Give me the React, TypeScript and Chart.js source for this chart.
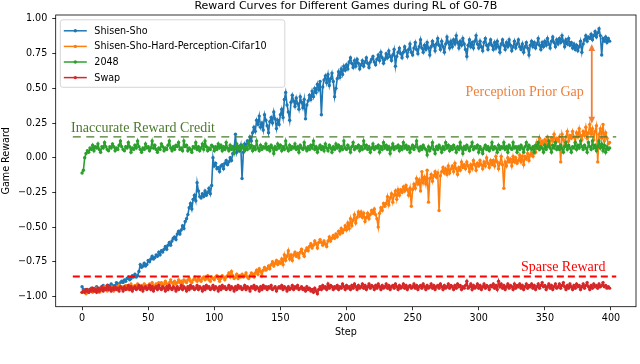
import React, { useEffect, useRef } from "react";
import { Chart, registerables } from "chart.js";

Chart.register(...registerables);

// ---------- data ----------
const TITLE = "Reward Curves for Different Games during RL of G0-7B";
const X_LABEL = "Step";
const Y_LABEL = "Game Reward";

const STEPS: number[] = Array.from({ length: 400 }, (_, i) => i);
const X_TICKS = [0, 50, 100, 150, 200, 250, 300, 350, 400];
const Y_TICKS = [-1.0, -0.75, -0.5, -0.25, 0.0, 0.25, 0.5, 0.75, 1.0];

const SERIES_NAMES = ["Shisen-Sho", "Shisen-Sho-Hard-Perception-Cifar10", "2048", "Swap"];
const SERIES_COLORS = ["#1f77b4", "#ff7f0e", "#2ca02c", "#d62728"];

const SHISEN_SHO = [
  -0.93,-0.95,-0.96,-0.96,-0.95,-0.97,-0.96,-0.94,-0.95,-0.96,
  -0.94,-0.93,-0.95,-0.94,-0.95,-0.93,-0.92,-0.94,-0.95,-0.93,
  -0.92,-0.93,-0.91,-0.92,-0.94,-0.92,-0.90,-0.91,-0.93,-0.90,
  -0.89,-0.90,-0.88,-0.89,-0.87,-0.86,-0.88,-0.87,-0.85,-0.86,
  -0.84,-0.86,-0.85,-0.82,-0.77,-0.79,-0.78,-0.76,-0.78,-0.77,
  -0.74,-0.75,-0.73,-0.71,-0.73,-0.72,-0.70,-0.71,-0.68,-0.70,
  -0.67,-0.68,-0.66,-0.64,-0.66,-0.63,-0.61,-0.63,-0.60,-0.58,
  -0.57,-0.59,-0.55,-0.53,-0.55,-0.52,-0.49,-0.51,-0.46,-0.44,
  -0.41,-0.36,-0.33,-0.37,-0.30,-0.27,-0.31,-0.18,-0.24,-0.28,
  -0.29,-0.26,-0.28,-0.24,-0.27,-0.25,-0.22,-0.26,-0.20,0.00,
  -0.06,-0.04,-0.08,-0.07,-0.10,-0.06,-0.05,-0.08,-0.04,-0.02,
  -0.05,-0.03,0.00,-0.02,0.03,0.06,0.17,0.04,0.08,0.05,
  0.09,-0.15,0.04,0.10,0.07,0.12,0.10,0.15,0.12,0.18,
  0.22,0.19,0.27,0.24,0.30,0.22,0.25,0.20,0.31,0.27,
  0.23,0.18,0.26,0.29,0.25,0.33,0.28,0.21,0.27,0.24,
  0.31,0.35,0.29,0.42,0.47,0.38,0.33,0.27,0.40,0.45,
  0.41,0.37,0.43,0.39,0.35,0.44,0.40,0.36,0.42,0.28,
  0.38,0.41,0.45,0.42,0.48,0.44,0.50,0.47,0.53,0.49,
  0.55,0.31,0.51,0.56,0.59,0.54,0.60,0.52,0.57,0.61,
  0.55,0.44,0.50,0.57,0.62,0.58,0.64,0.60,0.66,0.63,
  0.67,0.64,0.69,0.72,0.68,0.65,0.70,0.66,0.71,0.68,
  0.64,0.67,0.70,0.66,0.69,0.72,0.68,0.65,0.69,0.71,
  0.73,0.69,0.67,0.71,0.74,0.70,0.76,0.72,0.68,0.71,
  0.75,0.72,0.77,0.73,0.70,0.74,0.78,0.66,0.73,0.76,
  0.79,0.75,0.72,0.76,0.80,0.77,0.73,0.78,0.82,0.76,
  0.74,0.79,0.83,0.78,0.75,0.80,0.85,0.79,0.76,0.81,
  0.78,0.83,0.79,0.74,0.80,0.84,0.81,0.77,0.82,0.86,
  0.81,0.78,0.84,0.80,0.76,0.82,0.87,0.83,0.79,0.84,
  0.80,0.85,0.82,0.88,0.83,0.79,0.84,0.81,0.86,0.82,
  0.78,0.73,0.81,0.85,0.80,0.83,0.79,0.84,0.88,0.82,
  0.79,0.84,0.80,0.77,0.83,0.86,0.81,0.78,0.82,0.85,
  0.81,0.78,0.83,0.79,0.84,0.80,0.76,0.82,0.85,0.81,
  0.78,0.83,0.80,0.85,0.81,0.77,0.80,0.84,0.79,0.82,
  0.85,0.80,0.78,0.82,0.76,0.80,0.83,0.79,0.74,0.81,
  0.84,0.80,0.83,0.79,0.82,0.86,0.81,0.78,0.83,0.80,
  0.84,0.81,0.86,0.82,0.79,0.84,0.87,0.83,0.80,0.85,
  0.82,0.86,0.83,0.88,0.84,0.80,0.85,0.82,0.86,0.81,
  0.83,0.79,0.82,0.78,0.81,0.77,0.80,0.84,0.76,0.82,
  0.85,0.88,0.84,0.87,0.86,0.89,0.85,0.88,0.91,0.87,
  0.90,0.93,0.88,0.74,0.86,0.84,0.87,0.83,0.86,0.84,
];

const SHISEN_SHO_HARD = [
  -0.97,-0.96,-0.97,-0.98,-0.96,-0.97,-0.95,-0.96,-0.97,-0.95,
  -0.96,-0.94,-0.95,-0.97,-0.96,-0.94,-0.95,-0.93,-0.95,-0.96,
  -0.94,-0.95,-0.93,-0.94,-0.96,-0.94,-0.93,-0.95,-0.92,-0.94,
  -0.93,-0.95,-0.94,-0.92,-0.93,-0.95,-0.93,-0.91,-0.93,-0.94,
  -0.92,-0.93,-0.91,-0.93,-0.94,-0.92,-0.93,-0.91,-0.92,-0.94,
  -0.92,-0.91,-0.93,-0.90,-0.92,-0.93,-0.91,-0.92,-0.90,-0.91,
  -0.90,-0.92,-0.91,-0.89,-0.91,-0.92,-0.90,-0.88,-0.90,-0.91,
  -0.89,-0.91,-0.90,-0.88,-0.90,-0.89,-0.91,-0.88,-0.89,-0.90,
  -0.88,-0.87,-0.89,-0.90,-0.88,-0.86,-0.88,-0.89,-0.87,-0.88,
  -0.89,-0.87,-0.86,-0.88,-0.87,-0.85,-0.88,-0.89,-0.86,-0.87,
  -0.88,-0.86,-0.85,-0.87,-0.89,-0.87,-0.85,-0.86,-0.88,-0.86,
  -0.85,-0.83,-0.86,-0.82,-0.85,-0.87,-0.86,-0.84,-0.87,-0.85,
  -0.86,-0.84,-0.86,-0.85,-0.83,-0.86,-0.87,-0.85,-0.83,-0.84,
  -0.86,-0.83,-0.81,-0.84,-0.80,-0.82,-0.85,-0.81,-0.79,-0.81,
  -0.80,-0.78,-0.80,-0.77,-0.75,-0.78,-0.76,-0.74,-0.77,-0.75,
  -0.76,-0.73,-0.77,-0.70,-0.74,-0.71,-0.67,-0.73,-0.70,-0.74,
  -0.70,-0.68,-0.71,-0.69,-0.72,-0.68,-0.66,-0.69,-0.71,-0.67,
  -0.65,-0.67,-0.64,-0.62,-0.65,-0.63,-0.60,-0.62,-0.65,-0.61,
  -0.59,-0.61,-0.63,-0.60,-0.62,-0.64,-0.60,-0.57,-0.60,-0.58,
  -0.56,-0.58,-0.55,-0.57,-0.53,-0.55,-0.51,-0.54,-0.52,-0.49,
  -0.52,-0.47,-0.51,-0.44,-0.49,-0.45,-0.41,-0.47,-0.43,-0.39,
  -0.42,-0.39,-0.43,-0.40,-0.46,-0.43,-0.40,-0.44,-0.41,-0.38,
  -0.40,-0.37,-0.41,-0.44,-0.50,-0.40,-0.36,-0.38,-0.33,-0.35,
  -0.33,-0.28,-0.34,-0.29,-0.26,-0.32,-0.27,-0.24,-0.30,-0.23,
  -0.27,-0.23,-0.25,-0.21,-0.24,-0.20,-0.23,-0.27,-0.22,-0.35,
  -0.23,-0.19,-0.22,-0.15,-0.19,-0.16,-0.24,-0.10,-0.18,-0.14,
  -0.19,-0.09,-0.32,-0.15,-0.12,-0.17,-0.13,-0.10,-0.14,-0.11,
  -0.38,-0.13,-0.10,-0.07,-0.11,-0.08,-0.12,-0.06,-0.11,-0.08,
  -0.06,-0.10,-0.04,-0.08,-0.12,-0.07,-0.09,-0.03,-0.07,-0.05,
  -0.08,-0.03,-0.06,-0.10,-0.05,-0.08,-0.02,-0.05,-0.09,-0.04,
  -0.06,-0.02,-0.05,-0.08,-0.03,-0.06,0.00,-0.04,-0.07,-0.02,
  -0.05,-0.02,-0.06,0.01,-0.03,-0.08,-0.04,0.01,-0.05,-0.22,
  -0.03,-0.06,0.00,-0.03,-0.01,-0.06,0.01,-0.03,0.00,-0.04,
  -0.02,0.02,-0.03,0.01,-0.05,0.01,-0.01,0.03,-0.02,0.02,
  0.04,0.01,0.07,0.04,0.11,0.07,0.14,0.09,0.12,0.10,
  0.13,0.10,0.15,0.12,0.09,0.14,0.12,0.17,0.11,0.14,
  0.12,0.15,-0.03,0.17,0.13,0.09,0.15,0.19,0.12,0.16,
  0.14,0.19,0.15,0.11,0.18,0.15,0.21,0.16,0.13,0.19,
  0.16,0.22,0.14,0.18,0.24,0.17,0.21,0.13,0.19,0.23,
  -0.03,0.17,0.21,0.14,0.24,0.12,0.18,0.14,0.10,0.11,
];

const GAME_2048 = [
  -0.11,-0.09,0.00,0.03,0.05,0.04,0.07,0.06,0.09,0.05,
  0.08,0.07,0.10,0.06,0.04,0.08,0.07,0.11,0.08,0.06,
  0.05,0.08,0.07,0.10,0.08,0.05,0.07,0.06,0.09,0.12,
  0.08,0.06,0.05,0.08,0.07,0.11,0.08,0.04,0.07,0.06,
  0.09,0.07,0.12,0.08,0.06,0.04,0.07,0.06,0.10,0.07,
  0.08,0.05,0.07,0.12,0.07,0.09,0.06,0.04,0.07,0.06,
  0.10,0.08,0.05,0.07,0.06,0.09,0.12,0.07,0.05,0.08,
  0.06,0.09,0.08,0.11,0.06,0.07,0.05,0.12,0.08,0.09,
  0.05,0.07,0.06,0.04,0.08,0.07,0.11,0.06,0.08,0.05,
  0.07,0.10,0.06,0.12,0.08,0.05,0.07,0.06,0.09,0.08,
  0.05,0.08,0.06,0.10,0.07,0.09,0.05,0.08,0.06,0.11,
  0.07,0.05,0.09,0.06,0.08,0.03,0.07,0.10,0.06,0.08,
  0.06,0.09,0.07,0.05,0.08,0.06,0.11,0.07,0.09,0.05,
  0.08,0.06,0.12,0.07,0.05,0.09,0.06,0.08,0.07,0.10,
  0.06,0.08,0.05,0.09,0.07,0.03,0.08,0.06,0.10,0.07,
  0.09,0.05,0.08,0.06,0.12,0.07,0.05,0.09,0.06,0.08,
  0.07,0.10,0.06,0.08,0.04,0.09,0.07,0.06,0.11,0.07,
  0.05,0.08,0.06,0.09,0.07,0.12,0.06,0.08,0.04,0.07,
  0.09,0.06,0.08,0.05,0.10,0.07,0.05,0.09,0.07,0.04,
  0.08,0.06,0.10,0.07,0.09,0.05,0.08,0.06,0.12,0.07,
  0.06,0.09,0.07,0.04,0.08,0.11,0.06,0.08,0.07,0.09,
  0.05,0.08,0.06,0.12,0.07,0.09,0.06,0.08,0.04,0.07,
  0.10,0.06,0.08,0.07,0.09,0.04,0.08,0.06,0.11,0.07,
  0.09,0.06,0.08,0.03,0.07,0.10,0.06,0.08,0.07,0.09,
  0.05,0.08,0.06,0.11,0.07,0.09,0.06,0.08,0.04,0.07,
  0.09,0.06,0.08,0.12,0.07,0.05,0.08,0.06,0.09,0.07,
  0.06,0.02,0.08,0.05,0.07,0.11,0.06,0.03,0.08,0.06,
  0.09,0.07,0.04,0.08,0.06,0.11,0.07,0.09,0.05,0.08,
  0.06,0.09,0.07,0.04,0.08,0.06,0.11,0.07,0.03,0.08,
  0.06,0.09,0.07,0.05,0.08,0.11,0.06,0.08,0.07,0.09,
  0.04,0.08,0.06,0.03,0.07,0.09,0.06,0.08,0.05,0.07,
  0.11,0.06,0.08,0.07,0.04,0.09,0.06,0.08,0.07,0.11,
  0.06,0.08,0.04,0.09,0.07,0.06,0.11,0.07,0.08,0.04,
  0.08,0.06,0.09,0.07,0.04,0.08,0.11,0.06,0.09,0.07,
  0.06,0.08,0.04,0.09,0.07,0.11,0.06,0.08,0.07,0.04,
  0.09,0.06,0.08,0.12,0.07,0.04,0.09,0.07,0.11,0.06,
  0.08,0.06,0.09,0.07,0.04,0.08,0.11,0.06,0.09,0.07,
  0.04,0.08,0.07,0.11,0.06,0.09,0.07,0.12,0.08,0.06,
  0.09,0.07,0.04,0.11,0.08,0.06,0.12,0.07,0.09,0.05,
  0.08,0.12,0.07,0.10,0.05,0.09,0.04,0.08,0.06,0.07,
];

const SWAP = [
  -0.97,-0.96,-0.97,-0.95,-0.96,-0.97,-0.95,-0.96,-0.94,-0.96,
  -0.95,-0.97,-0.94,-0.96,-0.95,-0.93,-0.96,-0.94,-0.95,-0.92,
  -0.95,-0.93,-0.96,-0.94,-0.95,-0.93,-0.95,-0.94,-0.96,-0.93,
  -0.94,-0.96,-0.93,-0.95,-0.94,-0.92,-0.95,-0.93,-0.96,-0.94,
  -0.93,-0.95,-0.94,-0.92,-0.95,-0.93,-0.96,-0.94,-0.93,-0.95,
  -0.94,-0.92,-0.95,-0.93,-0.96,-0.94,-0.93,-0.95,-0.92,-0.94,
  -0.95,-0.93,-0.94,-0.96,-0.93,-0.95,-0.92,-0.94,-0.95,-0.93,
  -0.94,-0.96,-0.93,-0.95,-0.94,-0.92,-0.95,-0.93,-0.94,-0.96,
  -0.93,-0.95,-0.92,-0.94,-0.93,-0.95,-0.94,-0.92,-0.95,-0.93,
  -0.94,-0.96,-0.93,-0.95,-0.92,-0.94,-0.93,-0.95,-0.94,-0.92,
  -0.95,-0.93,-0.94,-0.96,-0.93,-0.95,-0.92,-0.94,-0.93,-0.95,
  -0.94,-0.92,-0.95,-0.93,-0.94,-0.96,-0.93,-0.95,-0.92,-0.94,
  -0.93,-0.95,-0.94,-0.92,-0.95,-0.93,-0.94,-0.96,-0.93,-0.94,
  -0.92,-0.95,-0.93,-0.94,-0.96,-0.93,-0.95,-0.92,-0.94,-0.93,
  -0.95,-0.93,-0.94,-0.92,-0.95,-0.94,-0.93,-0.96,-0.94,-0.93,
  -0.94,-0.92,-0.95,-0.93,-0.94,-0.96,-0.93,-0.95,-0.94,-0.92,
  -0.95,-0.93,-0.94,-0.92,-0.95,-0.94,-0.93,-0.95,-0.94,-0.96,
  -0.93,-0.95,-0.94,-0.96,-0.95,-0.97,-0.94,-0.96,-0.98,-0.95,
  -0.93,-0.95,-0.92,-0.94,-0.93,-0.95,-0.91,-0.94,-0.92,-0.93,
  -0.95,-0.93,-0.94,-0.92,-0.95,-0.93,-0.94,-0.91,-0.93,-0.95,
  -0.92,-0.94,-0.93,-0.95,-0.92,-0.94,-0.91,-0.93,-0.95,-0.92,
  -0.94,-0.93,-0.91,-0.94,-0.92,-0.95,-0.93,-0.91,-0.94,-0.92,
  -0.93,-0.95,-0.92,-0.94,-0.91,-0.93,-0.95,-0.92,-0.94,-0.93,
  -0.91,-0.94,-0.92,-0.95,-0.93,-0.92,-0.94,-0.91,-0.93,-0.95,
  -0.92,-0.94,-0.93,-0.91,-0.94,-0.92,-0.95,-0.93,-0.92,-0.94,
  -0.93,-0.91,-0.94,-0.92,-0.95,-0.93,-0.92,-0.94,-0.91,-0.93,
  -0.95,-0.92,-0.94,-0.93,-0.91,-0.94,-0.92,-0.95,-0.93,-0.92,
  -0.94,-0.91,-0.93,-0.95,-0.92,-0.94,-0.93,-0.91,-0.94,-0.92,
  -0.93,-0.95,-0.92,-0.94,-0.91,-0.93,-0.92,-0.95,-0.93,-0.94,
  -0.92,-0.89,-0.94,-0.93,-0.91,-0.95,-0.92,-0.94,-0.93,-0.91,
  -0.94,-0.92,-0.95,-0.93,-0.91,-0.94,-0.92,-0.93,-0.95,-0.92,
  -0.93,-0.91,-0.94,-0.92,-0.95,-0.89,-0.93,-0.91,-0.94,-0.92,
  -0.95,-0.93,-0.91,-0.94,-0.92,-0.93,-0.95,-0.91,-0.94,-0.92,
  -0.93,-0.91,-0.94,-0.92,-0.95,-0.93,-0.91,-0.94,-0.92,-0.93,
  -0.91,-0.94,-0.92,-0.95,-0.93,-0.91,-0.94,-0.92,-0.90,-0.93,
  -0.92,-0.95,-0.93,-0.91,-0.94,-0.92,-0.95,-0.93,-0.91,-0.94,
  -0.93,-0.91,-0.94,-0.92,-0.90,-0.93,-0.95,-0.92,-0.94,-0.91,
  -0.93,-0.95,-0.92,-0.94,-0.91,-0.93,-0.92,-0.95,-0.93,-0.91,
  -0.94,-0.92,-0.90,-0.93,-0.95,-0.92,-0.94,-0.91,-0.93,-0.92,
  -0.94,-0.91,-0.93,-0.92,-0.90,-0.93,-0.92,-0.94,-0.93,-0.94,
];

// reference lines (level, x-extent in steps)
const CREDIT_LEVEL = 0.15;
const SPARSE_LEVEL = -0.855;
const REF_LINE_X = [-7, 404];

// annotations (data coordinates: step, reward)
const ANNOTATIONS = [
  { text: "Inaccurate Reward Credit", x: -8.3, y: 0.187, color: "#4a7a2c" },
  { text: "Sparse Reward", x: 332, y: -0.815, color: "#ff0000" },
  { text: "Perception Prior Gap", x: 290, y: 0.445, color: "#f07f3a" },
];
const GAP_ARROW = { x: 385.5, from: 0.82, to: 0.245, color: "#f07f3a" };

// ---------- rendering ----------
const FONT = "'DejaVu Sans', 'Liberation Sans', sans-serif";
const SERIF = "'Liberation Serif', 'DejaVu Serif', serif";

const overlayPlugin = {
  id: "overlay",
  afterDatasetsDraw(chart: any) {
    const { ctx, chartArea: a, scales } = chart;
    const xs = scales.x;
    const ys = scales.y;
    ctx.save();

    // frame
    ctx.strokeStyle = "#000";
    ctx.lineWidth = 0.8;
    ctx.strokeRect(a.left, a.top, a.right - a.left, a.bottom - a.top);

    // title
    ctx.fillStyle = "#000";
    ctx.font = `11px ${FONT}`;
    ctx.textAlign = "center";
    ctx.textBaseline = "middle";
    ctx.fillText(TITLE, (a.left + a.right) / 2, 6.6);

    // annotation texts
    ctx.font = `14px ${SERIF}`;
    ctx.textAlign = "left";
    ctx.textBaseline = "alphabetic";
    for (const an of ANNOTATIONS) {
      ctx.fillStyle = an.color;
      ctx.fillText(an.text, xs.getPixelForValue(an.x), ys.getPixelForValue(an.y));
    }

    // double-headed arrow
    const ax = xs.getPixelForValue(GAP_ARROW.x);
    const y1 = ys.getPixelForValue(GAP_ARROW.from);
    const y2 = ys.getPixelForValue(GAP_ARROW.to);
    const hl = 7;
    const hw = 3.3;
    ctx.strokeStyle = GAP_ARROW.color;
    ctx.fillStyle = GAP_ARROW.color;
    ctx.lineWidth = 1.8;
    ctx.beginPath();
    ctx.moveTo(ax, y1 + hl - 1);
    ctx.lineTo(ax, y2 - hl + 1);
    ctx.stroke();
    ctx.beginPath();
    ctx.moveTo(ax, y1);
    ctx.lineTo(ax - hw, y1 + hl);
    ctx.lineTo(ax + hw, y1 + hl);
    ctx.closePath();
    ctx.fill();
    ctx.beginPath();
    ctx.moveTo(ax, y2);
    ctx.lineTo(ax - hw, y2 - hl);
    ctx.lineTo(ax + hw, y2 - hl);
    ctx.closePath();
    ctx.fill();

    // legend
    const lx = a.left + 4.6;
    const ly = a.top + 4.8;
    const lw = 224.5;
    const lh = 67.5;
    const r = 2.5;
    ctx.beginPath();
    ctx.moveTo(lx + r, ly);
    ctx.lineTo(lx + lw - r, ly);
    ctx.arcTo(lx + lw, ly, lx + lw, ly + r, r);
    ctx.lineTo(lx + lw, ly + lh - r);
    ctx.arcTo(lx + lw, ly + lh, lx + lw - r, ly + lh, r);
    ctx.lineTo(lx + r, ly + lh);
    ctx.arcTo(lx, ly + lh, lx, ly + lh - r, r);
    ctx.lineTo(lx, ly + r);
    ctx.arcTo(lx, ly, lx + r, ly, r);
    ctx.closePath();
    ctx.fillStyle = "rgba(255,255,255,0.8)";
    ctx.fill();
    ctx.strokeStyle = "#cccccc";
    ctx.lineWidth = 0.8;
    ctx.stroke();

    const ds = chart.data.datasets.filter((d: any) => SERIES_NAMES.includes(d.label));
    ctx.font = `9.6px ${FONT}`;
    ctx.textAlign = "left";
    ctx.textBaseline = "middle";
    ds.forEach((d: any, i: number) => {
      const cy = ly + 11 + i * 15.6;
      ctx.strokeStyle = d.borderColor;
      ctx.lineWidth = 1.5;
      ctx.beginPath();
      ctx.moveTo(lx + 3.5, cy);
      ctx.lineTo(lx + 26.5, cy);
      ctx.stroke();
      ctx.fillStyle = d.borderColor;
      ctx.beginPath();
      ctx.arc(lx + 15, cy, 1.7, 0, Math.PI * 2);
      ctx.fill();
      ctx.fillStyle = "#000";
      ctx.fillText(d.label, lx + 34, cy + 0.5);
    });

    ctx.restore();
  },
};

function fmtTick(v: number) {
  return v.toFixed(2).replace("-", "\u2212");
}

export default function App() {
  const ref = useRef<HTMLCanvasElement | null>(null);

  useEffect(() => {
    if (!ref.current) return;
    const seriesData = [SHISEN_SHO, SHISEN_SHO_HARD, GAME_2048, SWAP];
    const datasets: any[] = seriesData.map((vals, i) => ({
      label: SERIES_NAMES[i],
      data: vals,
      borderColor: SERIES_COLORS[i],
      backgroundColor: SERIES_COLORS[i],
      pointBackgroundColor: SERIES_COLORS[i],
      borderWidth: 1.6,
      pointRadius: 1.7,
      pointBorderWidth: 0,
      tension: 0,
      fill: false,
      order: 4 - i,
    }));
    datasets.push({
      label: "credit-ref",
      data: REF_LINE_X.map((x) => ({ x, y: CREDIT_LEVEL })),
      borderColor: "#4a7a2c",
      borderWidth: 1.4,
      borderDash: [8, 5.5],
      pointRadius: 0,
      fill: false,
      order: 0,
    });
    datasets.push({
      label: "sparse-ref",
      data: REF_LINE_X.map((x) => ({ x, y: SPARSE_LEVEL })),
      borderColor: "#ff0000",
      borderWidth: 2,
      borderDash: [7, 4],
      pointRadius: 0,
      fill: false,
      order: 0,
    });

    const chart = new Chart(ref.current, {
      type: "line",
      data: { labels: STEPS, datasets },
      plugins: [overlayPlugin],
      options: {
        animation: false,
        responsive: false,
        maintainAspectRatio: false,
        events: [],
        layout: { padding: { top: 15, right: 2.7, bottom: 0, left: 0 } },
        plugins: {
          legend: { display: false },
          title: { display: false },
          tooltip: { enabled: false },
        },
        scales: {
          x: {
            type: "linear",
            min: -19.95,
            max: 418.95,
            afterFit: (s: any) => {
              s.height = 57.3;
            },
            afterBuildTicks: (s: any) => {
              s.ticks = X_TICKS.map((v) => ({ value: v }));
            },
            border: { display: false },
            grid: {
              display: true,
              drawOnChartArea: false,
              drawTicks: true,
              tickLength: 3.5,
              tickColor: "#000",
              tickWidth: 0.8,
            },
            ticks: {
              autoSkip: false,
              maxRotation: 0,
              padding: 2.3,
              color: "#000",
              font: { family: FONT, size: 9.6 },
              callback: (v: any) => String(v),
            },
            title: {
              display: true,
              text: X_LABEL,
              color: "#000",
              font: { family: FONT, size: 9.6 },
              padding: { top: 0, bottom: 26.2 },
            },
          },
          y: {
            type: "linear",
            min: -1.0735,
            max: 1.0285,
            afterFit: (s: any) => {
              s.width = 55.7;
            },
            afterBuildTicks: (s: any) => {
              s.ticks = Y_TICKS.map((v) => ({ value: v }));
            },
            border: { display: false },
            grid: {
              display: true,
              drawOnChartArea: false,
              drawTicks: true,
              tickLength: 3.5,
              tickColor: "#000",
              tickWidth: 0.8,
            },
            ticks: {
              autoSkip: false,
              padding: 4.9,
              color: "#000",
              font: { family: FONT, size: 9.6 },
              callback: (v: any) => fmtTick(Number(v)),
            },
            title: {
              display: true,
              text: Y_LABEL,
              color: "#000",
              font: { family: FONT, size: 9.6 },
              padding: { top: 1, bottom: 0 },
            },
          },
        },
      } as any,
    });
    return () => chart.destroy();
  }, []);

  return (
    <div style={{ position: "fixed", left: 0, top: 0, width: 640, height: 364, background: "#fff" }}>
      <canvas ref={ref} width={640} height={364} style={{ display: "block" }} />
    </div>
  );
}
